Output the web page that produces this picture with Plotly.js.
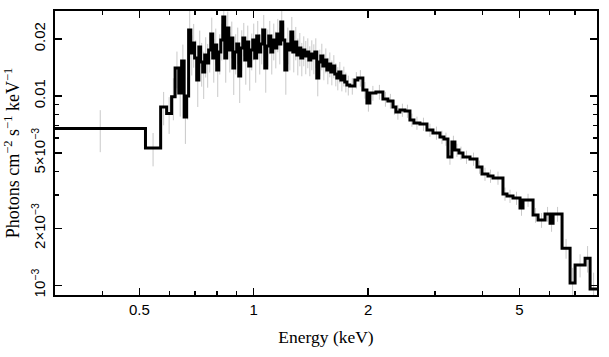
<!DOCTYPE html>
<html><head><meta charset="utf-8">
<script src="https://cdn.plot.ly/plotly-3.0.1.min.js"></script>
<style>html,body{margin:0;padding:0;background:#fff}</style>
</head><body><div id="chart" style="width:609px;height:357px"></div>
<script>
// Bin edges (keV), 135 bins -> 136 edges
const binEdges = [0.30, 0.519, 0.569, 0.590, 0.608, 0.621, 0.635, 0.646, 0.656, 0.666,
  0.674, 0.683, 0.691, 0.699, 0.708, 0.717, 0.725, 0.734, 0.743, 0.752,
  0.761, 0.771, 0.780, 0.790, 0.799, 0.809, 0.819, 0.829, 0.839, 0.849,
  0.860, 0.870, 0.881, 0.891, 0.902, 0.913, 0.924, 0.936, 0.947, 0.959,
  0.970, 0.982, 0.994, 1.006, 1.018, 1.031, 1.043, 1.056, 1.069, 1.082,
  1.095, 1.109, 1.122, 1.136, 1.150, 1.164, 1.178, 1.192, 1.207, 1.222,
  1.237, 1.252, 1.267, 1.282, 1.298, 1.314, 1.330, 1.346, 1.362, 1.379,
  1.396, 1.413, 1.430, 1.448, 1.465, 1.483, 1.501, 1.520, 1.538, 1.557,
  1.576, 1.595, 1.615, 1.634, 1.654, 1.674, 1.695, 1.716, 1.736, 1.758,
  1.789, 1.845, 1.879, 1.937, 1.985, 2.021, 2.096, 2.187, 2.254, 2.324,
  2.366, 2.424, 2.499, 2.576, 2.639, 2.737, 2.856, 2.961, 3.090, 3.165,
  3.243, 3.322, 3.383, 3.467, 3.552, 3.706, 3.867, 3.986, 4.133, 4.261,
  4.526, 4.638, 4.809, 5.018, 5.110, 5.431, 5.598, 5.840, 6.020, 6.131,
  6.474, 6.796, 7.005, 7.443, 7.672, 8.005];

// Flux per bin (photons cm^-2 s^-1 keV^-1)
const flux = [0.00673, 0.00531, 0.00875, 0.00808, 0.00992, 0.01406, 0.01037, 0.01531, 0.00775, 0.01000,
  0.02232, 0.01687, 0.01905, 0.01588, 0.01215, 0.01815, 0.01513, 0.01339, 0.01647, 0.01494,
  0.01750, 0.02126, 0.01588, 0.01860, 0.01372, 0.01708, 0.01976, 0.02614, 0.01588, 0.02287,
  0.01750, 0.02025, 0.01406, 0.01708, 0.01882, 0.01275, 0.01793, 0.02025, 0.01550, 0.01929,
  0.01441, 0.01750, 0.01976, 0.01588, 0.02075, 0.01708, 0.01882, 0.02232, 0.01406, 0.01837,
  0.02075, 0.01708, 0.01976, 0.01793, 0.02126, 0.01882, 0.02460, 0.01976, 0.01372, 0.01882,
  0.01750, 0.02178, 0.01708, 0.01929, 0.01647, 0.01793, 0.01588, 0.01750, 0.01627, 0.01708,
  0.01550, 0.01667, 0.01588, 0.01708, 0.01245, 0.01513, 0.01627, 0.01441, 0.01550, 0.01372,
  0.01476, 0.01339, 0.01441, 0.01307, 0.01245, 0.01339, 0.01215, 0.01275, 0.01186, 0.01143,
  0.01129, 0.01215, 0.01245, 0.01076, 0.00918, 0.01037, 0.01050, 0.00964, 0.00941, 0.00875,
  0.00823, 0.00843, 0.00833, 0.00747, 0.00720, 0.00711, 0.00661, 0.00638, 0.00607, 0.00593,
  0.00476, 0.00571, 0.00518, 0.00500, 0.00476, 0.00465, 0.00422, 0.00387, 0.00378, 0.00369,
  0.00304, 0.00296, 0.00289, 0.00256, 0.00282, 0.00235, 0.00221, 0.00238, 0.00213, 0.00238,
  0.00157, 0.00103, 0.00128, 0.00139, 0.000956];

// Relative 1-sigma error per bin (%)
const errPct = [25, 20, 20, 22, 25, 22, 25, 22, 28, 25,
  30, 24, 26, 24, 28, 22, 26, 28, 24, 26,
  24, 22, 26, 22, 28, 24, 22, 20, 26, 22,
  24, 22, 28, 24, 22, 28, 24, 20, 26, 22,
  26, 22, 22, 26, 20, 24, 22, 20, 26, 22,
  20, 24, 22, 22, 20, 22, 20, 22, 26, 22,
  22, 20, 22, 20, 22, 20, 20, 18, 20, 18,
  18, 18, 18, 18, 20, 16, 16, 16, 15, 16,
  15, 15, 14, 14, 14, 13, 13, 12, 12, 12,
  10, 10, 10, 10, 10, 9, 9, 9, 9, 9,
  9, 8, 8, 8, 8, 8, 8, 8, 8, 8,
  9, 8, 8, 8, 8, 8, 8, 8, 8, 8,
  8, 8, 8, 9, 8, 9, 9, 9, 10, 9,
  12, 20, 14, 16, 22];

const xTickVals = [0.5, 1, 2, 5];
const xTickText = ['0.5', '1', '2', '5'];
const xMinorVals = [0.4, 0.6, 0.7, 0.8, 0.9, 3, 4, 6, 7];
const yTickVals = [0.001, 0.002, 0.005, 0.01, 0.02];
const yTickText = ['10<sup>\u22123</sup>', '2\u00d710<sup>\u22123</sup>', '5\u00d710<sup>\u22123</sup>', '0.01', '0.02'];
const yMinorVals = [0.003, 0.004, 0.006, 0.007, 0.008, 0.009];

const centers = flux.map((_, i) => Math.sqrt(binEdges[i] * binEdges[i + 1]));
const err = flux.map((v, i) => v * errPct[i] / 100);
const stepX = binEdges.slice();
const stepY = flux.concat([flux[flux.length - 1]]);

const tickFont = {family: 'Liberation Sans, Arial, sans-serif', size: 15, color: '#000'};

const traces = [
  {x: centers, y: flux, type: 'scatter', mode: 'markers',
   marker: {size: 1, color: 'rgba(0,0,0,0)'},
   error_y: {type: 'data', array: err, visible: true, color: '#c9c9c9', thickness: 1, width: 0},
   hoverinfo: 'skip', showlegend: false},
  {x: stepX, y: stepY, type: 'scatter', mode: 'lines',
   line: {shape: 'hv', color: '#000', width: 3}, showlegend: false}
];

const axisCommon = {
  type: 'log', tickmode: 'array', ticks: 'inside', ticklen: 7, tickwidth: 1.5, tickcolor: '#000',
  showline: true, linewidth: 2, linecolor: '#000', mirror: 'allticks',
  showgrid: false, zeroline: false, tickfont: tickFont
};

const layout = {
  width: 609, height: 357,
  margin: {l: 55, r: 12, t: 11, b: 62},
  paper_bgcolor: '#fff', plot_bgcolor: '#fff',
  showlegend: false,
  xaxis: Object.assign({}, axisCommon, {
    range: [Math.log10(0.3), Math.log10(8)],
    tickvals: xTickVals, ticktext: xTickText,
    minor: {tickmode: 'array', tickvals: xMinorVals, ticks: 'inside', ticklen: 4, tickwidth: 1.5, tickcolor: '#000', showgrid: false},
    title: {text: 'Energy (keV)', font: {family: 'Liberation Serif, Times New Roman, serif', size: 17.5, color: '#000'}, standoff: 14}
  }),
  yaxis: Object.assign({}, axisCommon, {
    range: [Math.log10(0.000889), Math.log10(0.0281)],
    tickvals: yTickVals, ticktext: yTickText, tickangle: -90, ticklabelstandoff: 2,
    minor: {tickmode: 'array', tickvals: yMinorVals, ticks: 'inside', ticklen: 4, tickwidth: 1.5, tickcolor: '#000', showgrid: false},
    title: {text: 'Photons cm<sup>\u22122</sup> s<sup>\u22121</sup> keV<sup>\u22121</sup>', font: {family: 'Liberation Serif, Times New Roman, serif', size: 18, color: '#000'}, standoff: 4}
  })
};

Plotly.newPlot('chart', traces, layout, {displayModeBar: false, staticPlot: true});
</script>
</body></html>
